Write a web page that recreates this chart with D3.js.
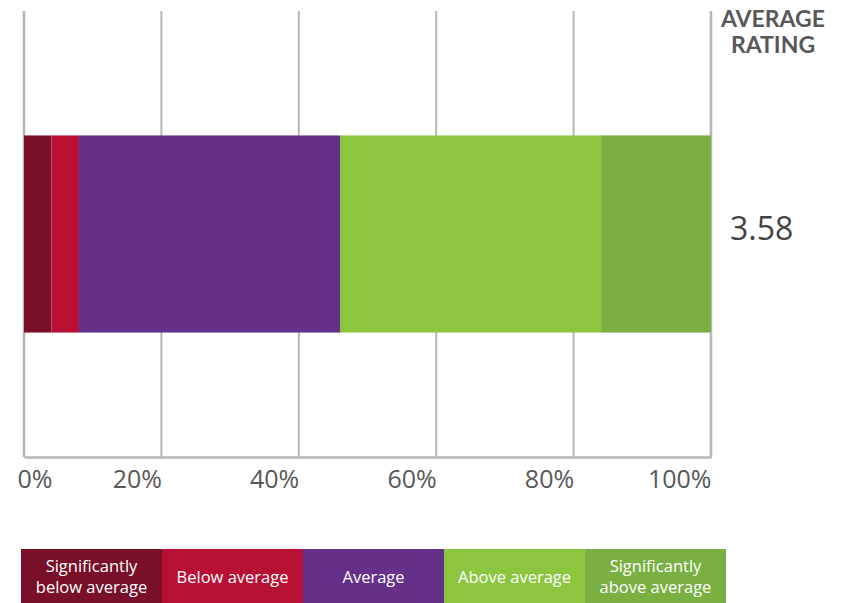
<!DOCTYPE html>
<html>
<head>
<meta charset="utf-8">
<script src="https://cdn.jsdelivr.net/npm/d3@7"></script>
<style>
  html, body { margin: 0; padding: 0; background: #ffffff; }
  svg { display: block; font-family: Lato, "Open Sans", sans-serif; }
</style>
</head>
<body>
<svg id="chart" width="846" height="603"></svg>
<script>
// Rating categories, share of responses (%) and colours
const categories = ["Significantly below average", "Below average", "Average", "Above average", "Significantly above average"];
const legendLines = [["Significantly", "below average"], ["Below average"], ["Average"], ["Above average"], ["Significantly", "above average"]];
const shares = [4, 4, 38, 38, 16];
const colors = ["#790f29", "#b81035", "#65308a", "#8cc63f", "#7aaf42"];
const tickValues = [0, 20, 40, 60, 80, 100];
const rows = ["All"];
const averageRating = "3.58";

const svg = d3.select("#chart");
const gridColor = "#b7b7ba";

const x = d3.scaleLinear().domain([0, 100]).range([24, 711]);
const y = d3.scaleBand().domain(rows).range([11, 457]).paddingInner(0.387).paddingOuter(0.387);

// vertical gridlines
svg.append("g").selectAll("line")
  .data(tickValues)
  .join("line")
  .attr("x1", d => x(d)).attr("x2", d => x(d))
  .attr("y1", 11).attr("y2", 457)
  .attr("stroke", gridColor)
  .attr("stroke-width", d => (d === 0 || d === 100) ? 2.6 : 2);

// stacked segments
let cum = 0;
const segs = shares.map((v, i) => { const s = { i, x0: cum, x1: cum + v }; cum += v; return s; });
svg.append("g").selectAll("rect")
  .data(segs)
  .join("rect")
  .attr("x", d => x(d.x0))
  .attr("width", d => x(d.x1) - x(d.x0))
  .attr("y", y("All"))
  .attr("height", y.bandwidth())
  .attr("fill", d => colors[d.i]);

// bottom axis
const axis = d3.axisBottom(x).tickValues(tickValues).tickFormat(d => d + "%").tickSize(0).tickPadding(0);
const gAxis = svg.append("g").attr("transform", "translate(0,457)").call(axis);
gAxis.select(".domain").attr("stroke", gridColor).attr("stroke-width", 2.6);
gAxis.selectAll(".tick text")
  .attr("fill", "#58585a")
  .attr("font-size", 25)
  .attr("font-family", "'Open Sans', Lato, sans-serif")
  .attr("dy", null)
  .attr("y", 31)
  .attr("text-anchor", d => d === 0 ? "start" : "end")
  .attr("x", d => d === 0 ? -7 : 0);

// average rating header and value
svg.append("text")
  .attr("x", 773).attr("y", 27)
  .attr("text-anchor", "middle")
  .attr("font-size", 23).attr("font-weight", 700)
  .attr("fill", "#58585a")
  .selectAll("tspan")
  .data(["AVERAGE", "RATING"])
  .join("tspan")
  .attr("x", 773)
  .attr("dy", (d, i) => i === 0 ? 0 : 26)
  .text(d => d);

svg.append("text")
  .attr("x", 730).attr("y", 240)
  .attr("font-size", 32)
  .attr("font-family", "'Open Sans', Lato, sans-serif")
  .attr("fill", "#444446")
  .text(averageRating);

// legend
const legendW = 141, legendX = 21, legendY = 549, legendH = 54;
const lg = svg.append("g").selectAll("g")
  .data(categories)
  .join("g")
  .attr("transform", (d, i) => `translate(${legendX + i * legendW},${legendY})`);
lg.append("rect")
  .attr("width", legendW).attr("height", legendH)
  .attr("fill", (d, i) => colors[i]);
lg.append("text")
  .attr("text-anchor", "middle")
  .attr("fill", "#ffffff")
  .attr("font-size", 16.5)
  .attr("font-family", "'Open Sans', Lato, sans-serif")
  .each(function (d, i) {
    const lines = legendLines[i];
    const t = d3.select(this);
    lines.forEach((ln, j) => {
      const yy = lines.length === 1 ? 34 : 23 + j * 21;
      t.append("tspan").attr("x", legendW / 2).attr("y", yy).text(ln);
    });
  });
</script>
</body>
</html>
